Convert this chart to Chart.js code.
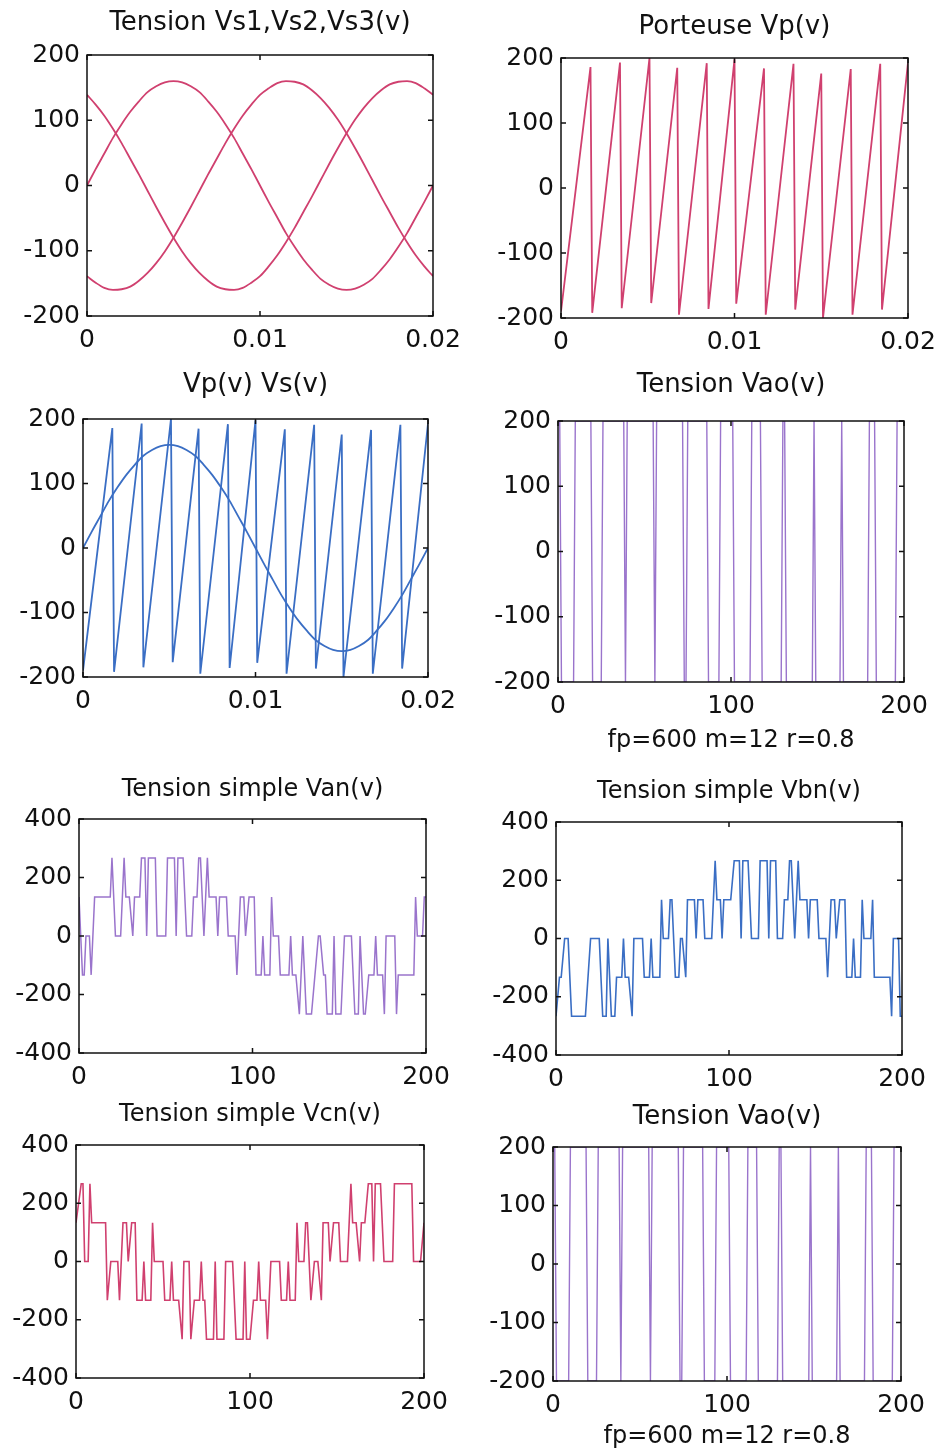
<!DOCTYPE html>
<html>
<head>
<meta charset="utf-8">
<script src="https://cdn.jsdelivr.net/npm/chart.js@4.4.1/dist/chart.umd.min.js"></script>
<style>
  html, body { margin: 0; padding: 0; background: #fff; }
  body { width: 936px; height: 1448px; position: relative; overflow: hidden; }
  .panel { position: absolute; }
</style>
</head>
<body>
<script>
// time axis of the three sine waves (s)
const tempsVs = [0, 0.0005, 0.001, 0.0015, 0.002, 0.0025, 0.003, 0.0035, 0.004, 0.0045,
  0.005, 0.0055, 0.006, 0.0065, 0.007, 0.0075, 0.008, 0.0085, 0.009, 0.0095,
  0.01, 0.0105, 0.011, 0.0115, 0.012, 0.0125, 0.013, 0.0135, 0.014, 0.0145,
  0.015, 0.0155, 0.016, 0.0165, 0.017, 0.0175, 0.018, 0.0185, 0.019, 0.0195, 0.02];
const vs1 = [0, 25, 49, 73, 94, 113, 129, 143, 152, 158, 160, 158, 152, 143, 129, 113, 94, 73, 49, 25,
  0, -25, -49, -73, -94, -113, -129, -143, -152, -158, -160, -158, -152, -143, -129, -113, -94, -73, -49, -25, 0];
const vs2 = [-139, -149, -157, -160, -159, -155, -146, -134, -119, -101, -80, -57, -33, -8, 17, 41, 65, 87, 107, 124,
  139, 149, 157, 160, 159, 155, 146, 134, 119, 101, 80, 57, 33, 8, -17, -41, -65, -87, -107, -124, -139];
const vs3 = [139, 124, 107, 87, 65, 41, 17, -8, -33, -57, -80, -101, -119, -134, -146, -155, -159, -160, -157, -149,
  -139, -124, -107, -87, -65, -41, -17, 8, 33, 57, 80, 101, 119, 134, 146, 155, 159, 160, 157, 149, 139];

// carrier (porteuse) vertices
const porteuseT = [0, 0.0017, 0.0018, 0.0034, 0.0035, 0.0051, 0.0052, 0.0067, 0.0068, 0.0084, 0.0085, 0.0100,
  0.0101, 0.0117, 0.0118, 0.0134, 0.0135, 0.0150, 0.0151, 0.0167, 0.0168, 0.0184, 0.0185, 0.0200];
const porteuseV = [-190, 186, -192, 193, -185, 200, -177, 185, -195, 192, -186, 198,
  -178, 184, -195, 191, -187, 176, -200, 183, -195, 191, -187, 193];

// Vao (sample index / volts)
const vaoX = [0, 1, 2, 9, 10, 19, 20, 25, 26, 38, 39, 40, 55, 56, 57, 72, 73, 74, 75, 86,
  87, 93, 94, 101, 102, 111, 112, 117, 118, 129, 130, 131, 132, 147, 148, 149, 163, 164, 165, 179,
  180, 183, 184, 195, 196, 200];
const vaoY = [200, 200, -200, -200, 200, 200, -200, -200, 200, 200, -200, 200, 200, -200, 200, 200, -200, -200, 200, 200,
  -200, -200, 200, 200, -200, -200, 200, 200, -200, -200, 200, 200, -200, -200, 200, -200, -200, 200, -200, -200,
  200, 200, -200, -200, 200, 200];

// Van
const vanX = [0, 1, 2, 3, 4, 6, 7, 9, 18, 19, 21, 24, 26, 27, 29, 31, 32, 35, 36, 38,
  39, 40, 44, 45, 50, 51, 55, 56, 57, 60, 62, 65, 66, 68, 69, 70, 72, 74, 75, 79,
  80, 81, 85, 86, 90, 91, 93, 95, 96, 98, 101, 102, 105, 106, 107, 110, 111, 112, 115, 116,
  121, 122, 123, 125, 127, 129, 131, 134, 136, 138, 139, 141, 142, 143, 146, 147, 148, 151, 153, 157,
  159, 161, 162, 164, 165, 167, 170, 171, 172, 175, 176, 177, 182, 183, 184, 193, 194, 195, 198, 199, 200];
const vanY = [133, 0, -133, -133, 0, 0, -133, 133, 133, 267, 0, 0, 267, 133, 133, 0, 133, 133, 267, 267,
  0, 267, 267, 0, 0, 267, 267, 0, 267, 267, 0, 0, 133, 133, 267, 267, 0, 267, 133, 133,
  0, 133, 133, 0, 0, -133, 133, 133, 0, 133, 133, -133, -133, 0, -133, -133, 133, 0, 0, -133,
  -133, 0, -133, -133, -267, 0, -267, -267, -133, 0, 0, -133, -133, -267, -267, 0, -267, -267, 0, 0,
  -267, -267, 0, -267, -267, -133, -133, 0, -133, -133, -267, 0, 0, -267, -133, -133, 133, 0, 0, 133, 133];

// Vbn
const vbnX = [0, 2, 3, 5, 7, 9, 17, 20, 25, 27, 29, 30, 32, 34, 35, 38, 39, 40, 42, 44,
  45, 50, 51, 54, 55, 56, 60, 61, 62, 65, 66, 67, 69, 71, 72, 73, 75, 76, 80, 81,
  82, 85, 86, 90, 92, 93, 95, 96, 97, 101, 103, 106, 107, 108, 111, 113, 117, 118, 122, 123,
  124, 127, 128, 131, 132, 134, 135, 136, 138, 140, 141, 145, 146, 147, 151, 152, 156, 157, 159, 161,
  162, 164, 167, 168, 171, 172, 173, 176, 177, 178, 182, 183, 184, 193, 194, 195, 198, 199, 200];
const vbnY = [-267, -133, -133, 0, 0, -267, -267, 0, 0, -267, -267, 0, -267, -267, -133, -133, 0, -133, -133, -267,
  0, 0, -133, -133, 0, -133, -133, 133, 0, 0, 133, 133, -133, -133, 0, 0, -133, 133, 133, 0,
  133, 133, 0, 0, 267, 133, 133, 0, 133, 133, 267, 267, 0, 267, 267, 0, 0, 267, 267, 0,
  267, 267, 0, 0, 133, 133, 267, 267, 0, 267, 133, 133, 0, 133, 133, 0, 0, -133, 133, 133,
  0, 133, 133, -133, -133, 0, -133, -133, 133, 0, 0, 133, -133, -133, -267, 0, 0, -267, -267];

// Vcn
const vcnX = [0, 3, 4, 5, 7, 8, 9, 17, 18, 20, 24, 25, 27, 29, 30, 32, 34, 35, 38, 39,
  40, 43, 44, 45, 50, 51, 54, 55, 56, 59, 61, 62, 65, 66, 68, 71, 72, 73, 74, 75,
  79, 80, 81, 85, 86, 90, 92, 96, 97, 98, 100, 102, 104, 105, 106, 109, 110, 112, 117, 118,
  121, 122, 123, 126, 127, 128, 131, 132, 133, 135, 137, 139, 141, 142, 145, 146, 148, 151, 152, 156,
  158, 159, 161, 163, 164, 166, 168, 170, 171, 172, 175, 177, 182, 183, 193, 194, 198, 200];
const vcnY = [133, 267, 267, 0, 0, 267, 133, 133, -133, 0, 0, -133, 133, 133, 0, 133, 133, -133, -133, 0,
  -133, -133, 133, 0, 0, -133, -133, 0, -133, -133, -267, 0, 0, -267, -133, -133, 0, -133, -133, -267,
  -267, 0, -267, -267, 0, 0, -267, -267, 0, -267, -267, -133, -133, 0, -133, -133, -267, 0, 0, -133,
  -133, 0, -133, -133, 133, 0, 0, 133, 133, -133, 0, 0, -133, 133, 133, 0, 133, 133, 0, 0,
  267, 133, 133, 0, 133, 133, 267, 267, 0, 267, 267, 0, 0, 267, 267, 0, 0, 133];

const PINK = '#d0406f';
const BLUE = '#3a6ec4';
const PURPLE = '#9a74cc';

const YW = 90;   // room for y tick labels
const RP = 45;   // room right of the plot for the last x label
const TH = 60;   // room above the plot for the title
const XH = 50;   // room below the plot for x tick labels

Chart.defaults.font.family = '"DejaVu Sans", sans-serif';
Chart.defaults.color = '#111';

function points(xs, ys) {
  return xs.map((x, i) => ({ x: x, y: ys[i] }));
}

function fmt(v) {
  return String(Math.round(v * 10000) / 10000);
}

// black box with inward ticks on all four sides
const framePlugin = {
  id: 'frame',
  afterDatasetsDraw(chart) {
    const { ctx, chartArea: a, scales } = chart;
    const x = scales.x, y = scales.y;
    ctx.save();
    ctx.strokeStyle = '#111';
    ctx.lineWidth = 1.5;
    ctx.strokeRect(a.left, a.top, a.right - a.left, a.bottom - a.top);
    ctx.beginPath();
    x.ticks.forEach(t => {
      const px = x.getPixelForValue(t.value);
      ctx.moveTo(px, a.bottom); ctx.lineTo(px, a.bottom - 5);
      ctx.moveTo(px, a.top); ctx.lineTo(px, a.top + 5);
    });
    y.ticks.forEach(t => {
      const py = y.getPixelForValue(t.value);
      ctx.moveTo(a.left, py); ctx.lineTo(a.left + 5, py);
      ctx.moveTo(a.right, py); ctx.lineTo(a.right - 5, py);
    });
    ctx.stroke();
    ctx.restore();
  }
};

// [x values, y values, colour, width, smooth]
const panels = [
  { l: 87, t: 55, r: 433, b: 316, titleY: 23, title: 'Tension Vs1,Vs2,Vs3(v)', titleSize: 26,
    xMax: 0.02, xStep: 0.01, yMax: 200, yStep: 100,
    series: [[tempsVs, vs1, PINK, 1.8, true], [tempsVs, vs2, PINK, 1.8, true], [tempsVs, vs3, PINK, 1.8, true]] },
  { l: 561, t: 58, r: 908, b: 318, titleY: 27, title: 'Porteuse Vp(v)', titleSize: 26,
    xMax: 0.02, xStep: 0.01, yMax: 200, yStep: 100,
    series: [[porteuseT, porteuseV, PINK, 1.8, false]] },
  { l: 83, t: 419, r: 428, b: 677, titleY: 385, title: 'Vp(v) Vs(v)', titleSize: 26,
    xMax: 0.02, xStep: 0.01, yMax: 200, yStep: 100,
    series: [[porteuseT, porteuseV, BLUE, 1.8, false], [tempsVs, vs1, BLUE, 1.8, true]] },
  { l: 558, t: 421, r: 904, b: 682, titleY: 385, title: 'Tension Vao(v)', titleSize: 26,
    sub: 'fp=600 m=12 r=0.8', subY: 741,
    xMax: 200, xStep: 100, yMax: 200, yStep: 100,
    series: [[vaoX, vaoY, PURPLE, 1.4, false]] },
  { l: 79, t: 819, r: 426, b: 1053, titleY: 790, title: 'Tension simple Van(v)', titleSize: 24,
    xMax: 200, xStep: 100, yMax: 400, yStep: 200,
    series: [[vanX, vanY, PURPLE, 1.5, false]] },
  { l: 556, t: 822, r: 902, b: 1055, titleY: 792, title: 'Tension simple Vbn(v)', titleSize: 24,
    xMax: 200, xStep: 100, yMax: 400, yStep: 200,
    series: [[vbnX, vbnY, BLUE, 1.6, false]] },
  { l: 76, t: 1145, r: 424, b: 1378, titleY: 1115, title: 'Tension simple Vcn(v)', titleSize: 24,
    xMax: 200, xStep: 100, yMax: 400, yStep: 200,
    series: [[vcnX, vcnY, PINK, 1.6, false]] },
  { l: 553, t: 1147, r: 901, b: 1381, titleY: 1117, title: 'Tension Vao(v)', titleSize: 26,
    sub: 'fp=600 m=12 r=0.8', subY: 1437,
    xMax: 200, xStep: 100, yMax: 200, yStep: 100,
    series: [[vaoX, vaoY, PURPLE, 1.4, false]] }
];

function makePanel(p) {
  const xh = p.sub ? (p.subY - p.b) + 12 : XH;
  const w = YW + (p.r - p.l) + RP;
  const h = TH + (p.b - p.t) + xh;
  const canvas = document.createElement('canvas');
  canvas.className = 'panel';
  canvas.width = w;
  canvas.height = h;
  canvas.style.left = (p.l - YW) + 'px';
  canvas.style.top = (p.t - TH) + 'px';
  canvas.style.width = w + 'px';
  canvas.style.height = h + 'px';
  document.body.appendChild(canvas);

  const padTop = p.titleY - (p.t - TH) - p.titleSize / 2;
  const padBottom = TH - p.titleSize - padTop;

  new Chart(canvas, {
    type: 'line',
    data: {
      datasets: p.series.map(s => ({
        data: points(s[0], s[1]),
        borderColor: s[2],
        borderWidth: s[3],
        pointRadius: 0,
        fill: false,
        tension: 0,
        cubicInterpolationMode: s[4] ? 'monotone' : 'default'
      }))
    },
    options: {
      responsive: false,
      animation: false,
      devicePixelRatio: 1,
      events: [],
      layout: { padding: { left: 0, right: RP, top: 0, bottom: 0 } },
      plugins: {
        legend: { display: false },
        tooltip: { enabled: false },
        title: {
          display: true,
          text: p.title,
          fullSize: false,
          color: '#111',
          font: { size: p.titleSize, weight: 'normal', lineHeight: 1 },
          padding: { top: padTop, bottom: padBottom }
        }
      },
      scales: {
        x: {
          type: 'linear',
          min: 0,
          max: p.xMax,
          grid: { display: false, drawTicks: false },
          border: { display: false },
          ticks: {
            stepSize: p.xStep,
            autoSkip: false,
            maxRotation: 0,
            padding: 9,
            color: '#111',
            font: { size: 25 },
            callback: v => fmt(v)
          },
          title: p.sub ? {
            display: true,
            text: p.sub,
            color: '#111',
            font: { size: 24, lineHeight: 1 },
            padding: { top: 0, bottom: 0 }
          } : { display: false },
          afterFit: s => { s.height = xh; s.paddingLeft = 0; s.paddingRight = 0; }
        },
        y: {
          type: 'linear',
          min: -p.yMax,
          max: p.yMax,
          grid: { display: false, drawTicks: false },
          border: { display: false },
          ticks: {
            stepSize: p.yStep,
            autoSkip: false,
            padding: 7,
            color: '#111',
            font: { size: 25 },
            callback: v => fmt(v)
          },
          afterFit: s => { s.width = YW; s.paddingTop = 0; s.paddingBottom = 0; }
        }
      }
    },
    plugins: [framePlugin]
  });
}

panels.forEach(makePanel);
</script>
</body>
</html>
